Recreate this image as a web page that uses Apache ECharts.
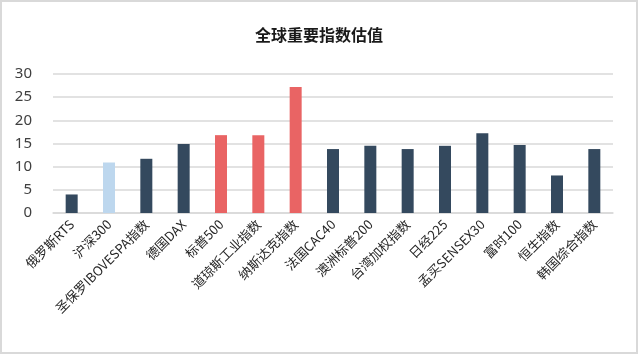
<!DOCTYPE html>
<html>
<head>
<meta charset="utf-8">
<script src="https://cdn.jsdelivr.net/npm/echarts@6/dist/echarts.min.js"></script>
<style>
  html, body { margin: 0; padding: 0; background: #fff; }
  #main { width: 638px; height: 354px; box-sizing: border-box; border: 2px solid #d9d9d9; }
</style>
</head>
<body>
<div id="main"></div>
<script>
// 指数名称
const categories = ['俄罗斯RTS', '沪深300', '圣保罗IBOVESPA指数', '德国DAX', '标普500', '道琼斯工业指数', '纳斯达克指数',
  '法国CAC40', '澳洲标普200', '台湾加权指数', '日经225', '孟买SENSEX30', '富时100', '恒生指数', '韩国综合指数']
// 估值
const values = [4, 10.9, 11.7, 14.9, 16.8, 16.8, 27.2, 13.8, 14.5, 13.8, 14.5, 17.2, 14.7, 8.1, 13.8]
// 颜色分组：0 深蓝 1 浅蓝 2 红
const groups = [0, 1, 0, 0, 2, 2, 2, 0, 0, 0, 0, 0, 0, 0, 0]
const palette = ['#34495e', '#bdd7ee', '#e96464']

const chart = echarts.init(document.getElementById('main'))
chart.setOption({
  title: {
    text: '全球重要指数估值',
    left: 'center',
    top: 20,
    textStyle: { fontFamily: 'Noto Sans CJK SC', fontSize: 16, fontWeight: 600, color: '#1a1a1a' }
  },
  grid: { left: 51, right: 23, top: 72, bottom: 139, containLabel: false },
  xAxis: {
    type: 'category',
    data: categories,
    axisLine: { lineStyle: { color: '#d9d9d9', width: 1.5 } },
    axisTick: { show: false },
    axisLabel: {
      rotate: 45,
      interval: 0,
      margin: 9,
      fontFamily: 'Noto Sans CJK SC',
      fontSize: 13,
      color: '#262626'
    }
  },
  yAxis: {
    type: 'value',
    min: 0,
    max: 30,
    interval: 5,
    axisLine: { show: false },
    axisTick: { show: false },
    splitLine: { lineStyle: { color: '#d9d9d9', width: 1.5 } },
    axisLabel: { margin: 21, fontFamily: 'Noto Sans', fontSize: 15, color: '#404040' }
  },
  series: [{
    type: 'bar',
    barWidth: 12,
    data: values.map((v, i) => ({ value: v, itemStyle: { color: palette[groups[i]] } }))
  }]
})
</script>
</body>
</html>
